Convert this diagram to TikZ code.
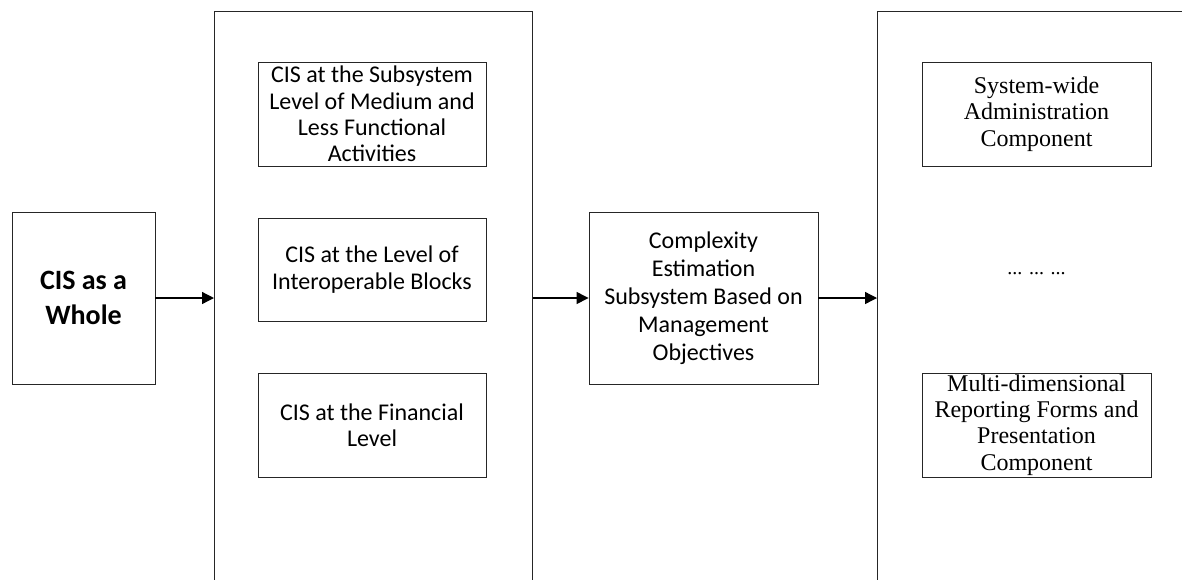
\documentclass[tikz,border=0pt]{standalone}
\usepackage{fontspec}
\setmainfont{Carlito}
\newfontfamily\timesf{Liberation Serif}
\usetikzlibrary{arrows.meta,calc}
\tikzset{
  box/.style={draw=black!85, line width=0.9pt, inner sep=0pt, align=center, fill=white},
  outer/.style={draw=black!85, line width=0.9pt, inner sep=0pt},
  arr/.style={draw=black, line width=1.3pt, -{Triangle[length=12pt,width=12pt]}},
  sans/.style={font=\fontsize{24}{26.3}\selectfont},
  serif/.style={font=\timesf\fontsize{24}{26.3}\selectfont}
}
\begin{document}
\begin{tikzpicture}[x=1pt,y=-1pt]
\useasboundingbox (0,0) rectangle (1182,579);
% outer containers (extend beyond the page)
\node[outer, minimum width=318pt, minimum height=600pt, anchor=north west] (grp) at (214,11) {};
\node[outer, minimum width=330pt, minimum height=600pt, anchor=north west] (res) at (877,11) {};
% left box
\node[box, minimum width=143pt, minimum height=172pt, font=\bfseries\fontsize{28}{35}\selectfont] (whole) at (83.5,298) {CIS as a\\Whole};
% group boxes
\node[box, sans, minimum width=228pt, minimum height=104pt] (a) at (372,114) {CIS at the Subsystem\\Level of Medium and\\Less Functional\\Activities};
\node[box, sans, minimum width=228pt, minimum height=103pt] (b) at (372,269.5) {CIS at the Level of\\Interoperable Blocks};
\node[box, sans, minimum width=228pt, minimum height=104pt] (c) at (372,425) {CIS at the Financial\\Level};
% middle box
\node[box, minimum width=229pt, minimum height=172pt, font=\fontsize{24}{28}\selectfont] (mid) at (703.5,298) {Complexity\\Estimation\\Subsystem Based on\\Management\\Objectives};
% result boxes
\node[box, serif, minimum width=229pt, minimum height=104pt] (d) at (1036.5,114) {System-wide\\Administration\\Component};
\node[inner sep=0pt, font=\timesf\fontsize{20}{24}\selectfont] (dots) at (1036.5,274) {... ... ...};
\node[box, serif, minimum width=229pt, minimum height=104pt] (e) at (1036.5,425) {Multi-dimensional\\Reporting Forms and\\Presentation\\Component};
% connectors
\draw[arr] (whole.east) -- (whole.east -| grp.west);
\draw[arr] (mid.west -| grp.east) -- (mid.west);
\draw[arr] (mid.east) -- (mid.east -| res.west);
\end{tikzpicture}
\end{document}
